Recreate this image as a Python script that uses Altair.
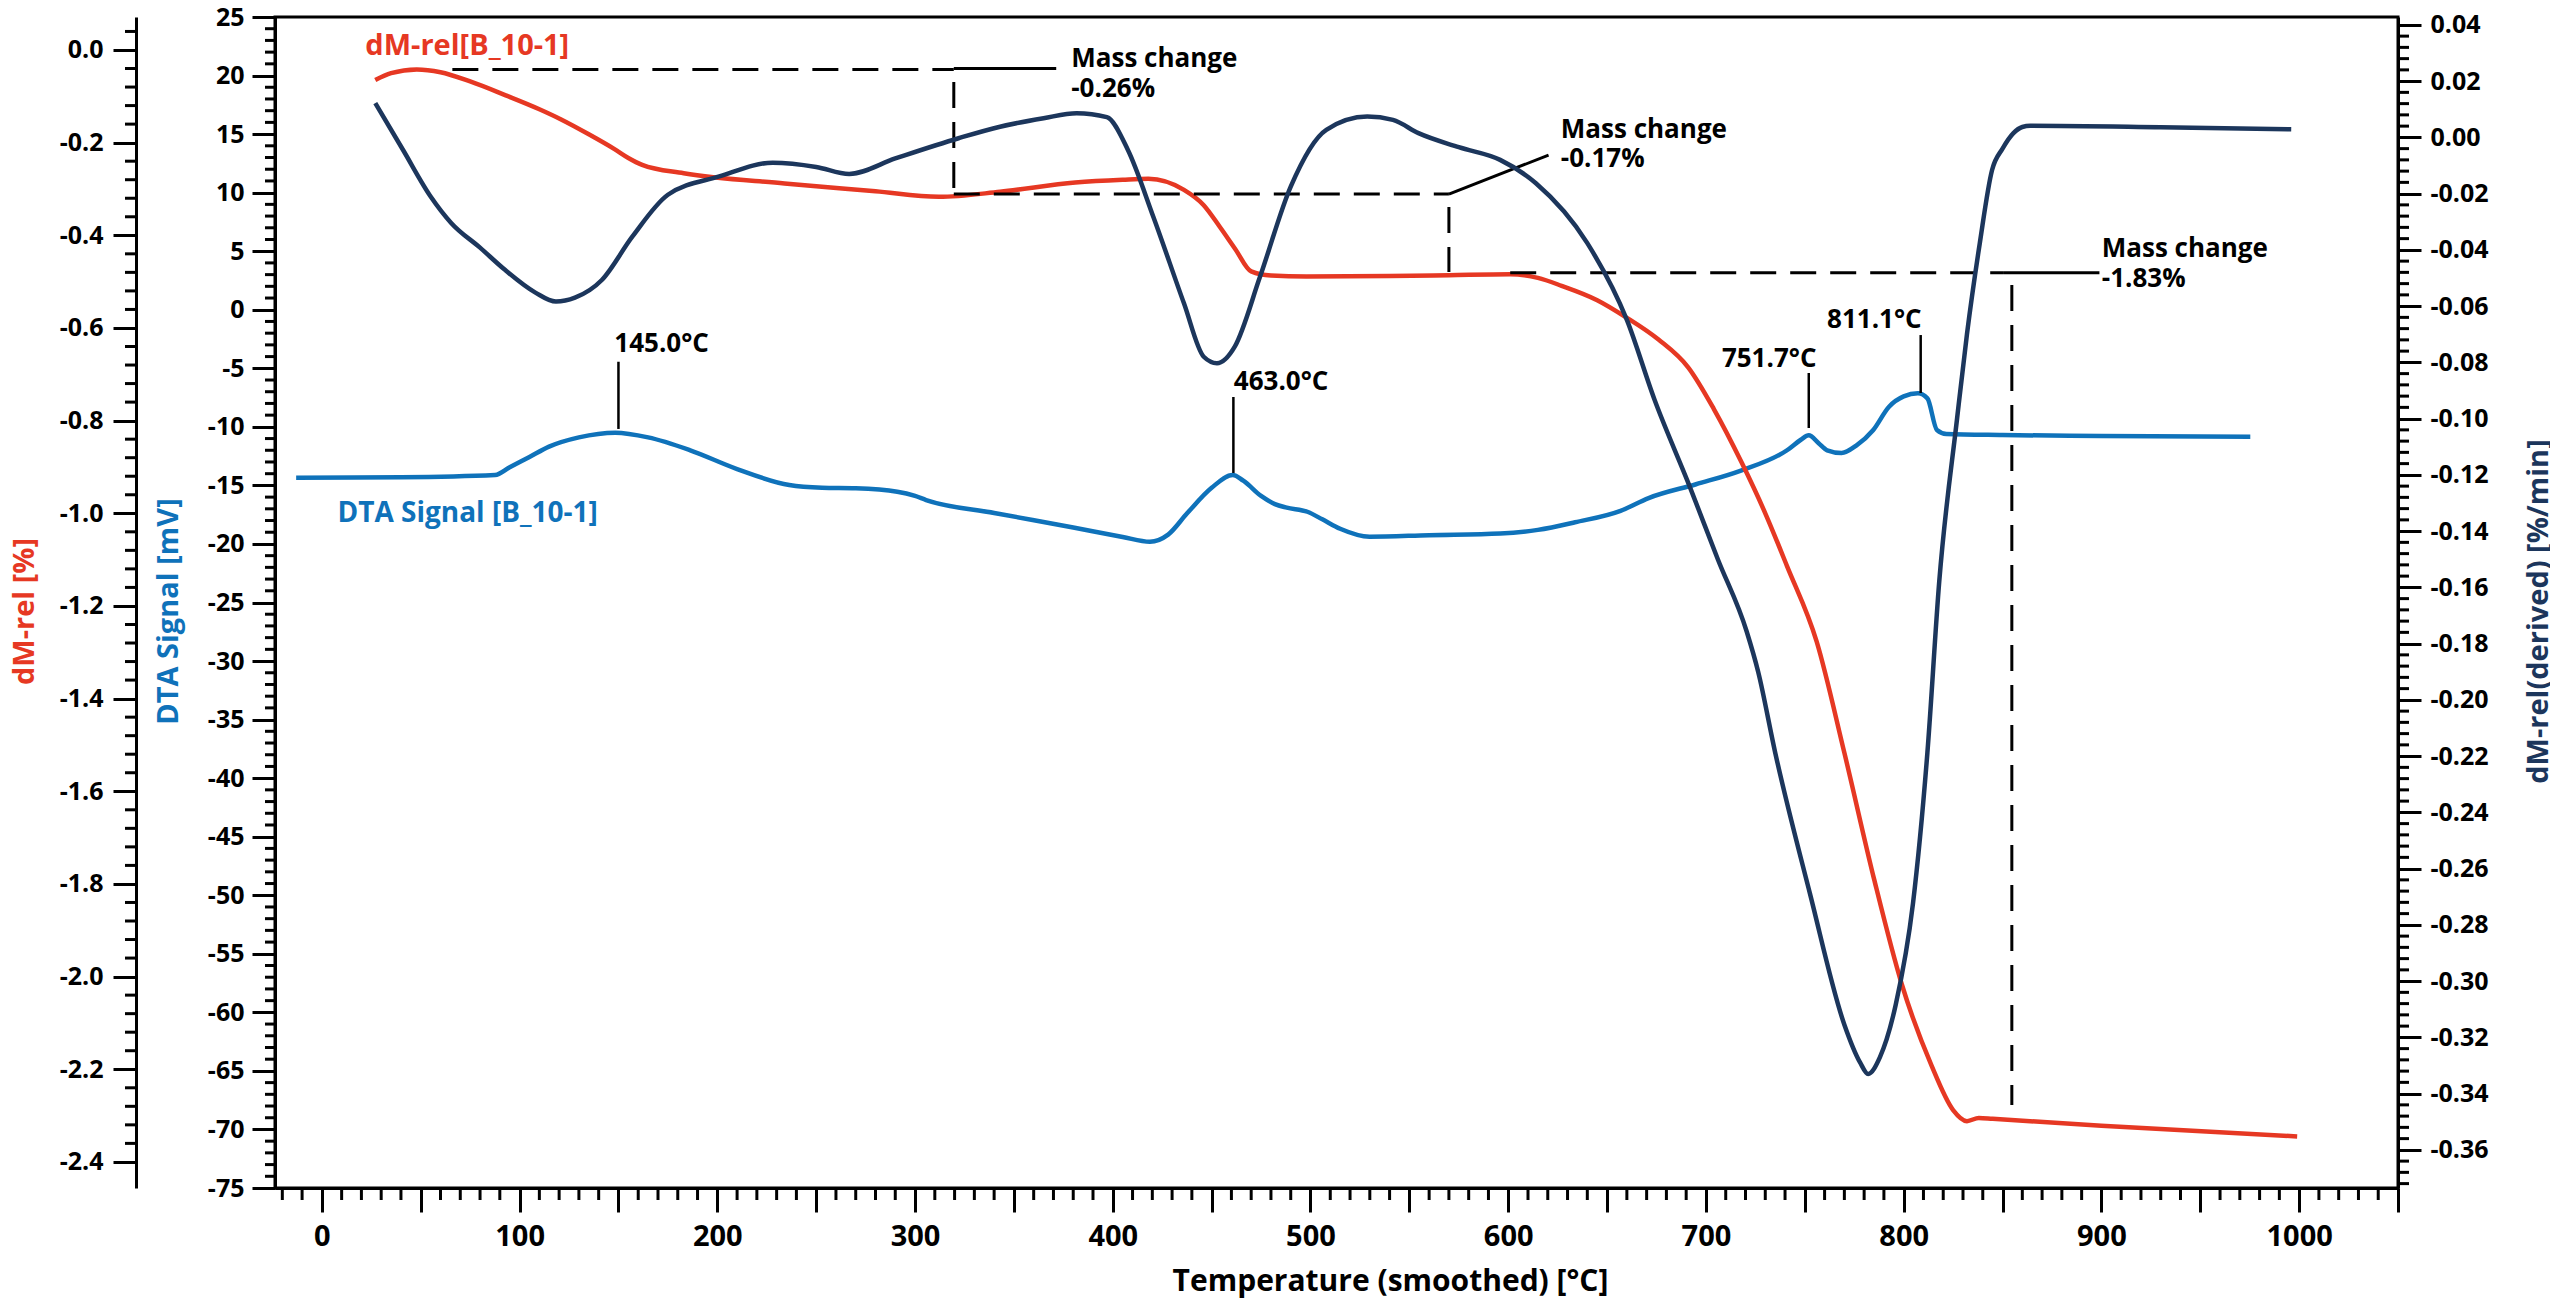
import altair as alt
import pandas as pd

# ---------------- data ----------------
# dM-rel [%] (red)
mass_T = [27, 35, 48, 60, 75, 93, 110, 121, 135, 148, 155, 162, 183, 234, 280, 312, 343, 381,
          405, 418, 436, 446, 454, 462, 470, 480, 498, 540, 570, 601, 615, 627, 645, 660, 676,
          691, 704, 718, 730, 741, 756, 770, 785, 799, 814, 825, 832, 838, 845, 900, 999]
mass_v = [-0.065, -0.050, -0.042, -0.048, -0.068, -0.098, -0.128, -0.150, -0.182, -0.214, -0.233,
          -0.248, -0.266, -0.288, -0.305, -0.317, -0.306, -0.286, -0.280, -0.278, -0.302, -0.335,
          -0.381, -0.430, -0.478, -0.487, -0.489, -0.488, -0.486, -0.484, -0.492, -0.509, -0.540,
          -0.578, -0.625, -0.685, -0.775, -0.890, -1.000, -1.114, -1.277, -1.517, -1.789, -2.016,
          -2.191, -2.288, -2.312, -2.305, -2.307, -2.322, -2.345]

# dM-rel(derived) [%/min] (navy)
deriv_T = [27, 41, 55, 65.5, 80, 92.6, 108, 118.4, 128, 141.6, 157, 175, 201, 228, 250, 266.7, 290,
           322, 343, 365, 381.7, 397, 407.6, 420.5, 436, 446, 452.7, 461.7, 474.5, 490, 508, 528.7,
           541.7, 554.6, 575, 595.9, 614, 640, 660, 674, 691.6, 706, 720.6, 726.4, 735, 752.6, 770,
           778, 782, 788, 796, 804.7, 812, 818, 827, 832, 838.5, 844.7, 850, 855.5, 860, 864, 930, 996]
deriv_v = [0.0122, -0.0044, -0.021, -0.0305, -0.0392, -0.0471, -0.0552, -0.0584, -0.057, -0.0507,
           -0.0353, -0.0204, -0.0139, -0.0090, -0.0105, -0.013, -0.0075, -0.0003, 0.0038, 0.0068,
           0.0086, 0.0072, -0.0044, -0.0282, -0.0590, -0.078, -0.0803, -0.0744, -0.0495, -0.0175,
           0.0027, 0.0074, 0.0062, 0.0015, -0.0035, -0.008, -0.0163, -0.0376, -0.0649, -0.0933,
           -0.1238, -0.150, -0.1757, -0.19, -0.2187, -0.2689, -0.3155, -0.329, -0.333, -0.327,
           -0.3083, -0.2724, -0.2187, -0.1578, -0.100, -0.070, -0.0376, -0.0116, -0.004, 0.0015,
           0.0037, 0.0041, 0.0036, 0.0029]

# DTA Signal [mV] (blue)
dta_T = [-13, 40, 87.6, 95, 105, 114.9, 130, 148.4, 165, 186, 210, 236.4, 253, 270, 291, 300,
         305.6, 340, 380, 405, 418.8, 428, 437.6, 450, 460.7, 466, 475, 482, 488, 498.4, 506, 515,
         529.9, 560, 596, 615, 633.8, 656.8, 671, 695, 717.7, 741, 748, 752, 757, 761.3, 768.6,
         776, 784.5, 792.6, 800, 807.2, 812, 816.8, 821.6, 850, 900, 975.3]
dta_v = [-14.34, -14.3, -14.11, -13.45, -12.57, -11.69, -10.9, -10.5, -10.9, -11.98, -13.6, -14.97,
         -15.2, -15.25, -15.54, -15.9, -16.25, -17.35, -18.6, -19.4, -19.81, -19.2, -17.38, -15.2,
         -14.11, -14.6, -15.9, -16.6, -16.9, -17.25, -17.9, -18.7, -19.38, -19.25, -19.11, -18.8,
         -18.15, -17.17, -16.08, -14.9, -13.73, -12.0, -11.1, -10.72, -11.4, -12.0, -12.23, -11.6,
         -10.29, -8.28, -7.4, -7.14, -7.57, -10.27, -10.61, -10.7, -10.78, -10.84]

# mass-change annotations (temperature, dM-rel %)
dash_T1 = [66, 319.6, 319.6, 570, 601, 854.7]
dash_T2 = [319.6, 319.6, 570, 570, 850.7, 854.7]
dash_m1 = [-0.042, -0.069, -0.311, -0.339, -0.481, -0.507]
dash_m2 = [-0.042, -0.302, -0.311, -0.479, -0.481, -2.277]
lead_T1 = [319.6, 570, 850.7]
lead_T2 = [371.4, 620.4, 899]
lead_m1 = [-0.040, -0.311, -0.481]
lead_m2 = [-0.040, -0.227, -0.481]
mc_T = [379, 379, 626.6, 626.6, 900.2, 900.2]
mc_m = [-0.0367, -0.101, -0.190, -0.2525, -0.4468, -0.5115]
mc_text = ["Mass change", "-0.26%", "Mass change", "-0.17%", "Mass change", "-1.83%"]

# DTA peak markers (temperature, mV)
pk_T = [150, 461, 752, 808.6]
pk_d1 = [-4.44, -7.45, -5.4, -2.16]
pk_d2 = [-10.18, -13.94, -10.1, -7.11]
pkL_T = [147.9, 461.2]
pkL_d = [-3.61, -6.85]
pkL_text = ["145.0°C", "463.0°C"]
pkR_T = [755.9, 809.1]
pkR_d = [-4.89, -1.56]
pkR_text = ["751.7°C", "811.1°C"]

# axis ticks
x_major = list(range(0, 1051, 50))
x_minor = [v for v in range(-20, 1051, 10) if v % 50 != 0]
dta_major = list(range(-75, 26, 5))
dta_minor = [v for v in range(-74, 25) if v % 5 != 0]
mass_major = [round(-0.2 * i, 1) for i in range(13)]
mass_minor = [round(0.04 * k, 2) for k in range(-59, 2) if k % 5 != 0]
deriv_major = [round(0.04 - 0.02 * i, 2) for i in range(21)]
deriv_minor = [round(0.004 * k, 3) for k in range(-93, 11) if k % 5 != 0]

# ---------------- styling ----------------
W, H = 2123, 1171
RED = "#E63823"
BLUE = "#0F72BA"
NAVY = "#1C365C"
FONT = "Open Sans"
LW = 4.5

xscale = alt.Scale(domain=[-23.7, 1050], nice=False, zero=False)
dta_scale = alt.Scale(domain=[-75, 25], nice=False, zero=False)
mass_scale = alt.Scale(domain=[-2.4563, 0.0712], nice=False, zero=False)
deriv_scale = alt.Scale(domain=[-0.37356, 0.0428], nice=False, zero=False)

common_axis = dict(grid=False, domainColor="black", domainWidth=3, tickColor="black",
                   tickWidth=3, labelColor="black", labelFont=FONT, labelFontWeight="bold",
                   titleFont=FONT, titleFontWeight="bold", labelOverlap=False, labelFlush=False)

x_axis = alt.Axis(values=x_major, tickSize=24, labelFontSize=29, labelPadding=10,
                  labelExpr="datum.value % 100 === 0 ? format(datum.value, 'd') : ''",
                  title="Temperature (smoothed) [°C]", titleFontSize=30, titleColor="black",
                  titleX=1115, titleY=102, titleAlign="center", titleBaseline="alphabetic",
                  **common_axis)

dta_axis = alt.Axis(orient="left", offset=0, values=dta_major, tickSize=23, labelFontSize=25,
                    labelPadding=8, labelExpr="replace(format(datum.value, 'd'), '\u2212', '-')",
                    title="DTA Signal [mV]", titleColor=BLUE, titleFontSize=29,
                    titleX=-107, titleY=594, titleAngle=270, titleAlign="center",
                    titleBaseline="middle", **common_axis)

mass_axis = alt.Axis(orient="left", offset=139, values=mass_major, tickSize=23, labelFontSize=25,
                     labelPadding=10, labelExpr="replace(format(datum.value, '.1f'), '\u2212', '-')",
                     title="dM-rel [%]", titleColor=RED, titleFontSize=29,
                     titleX=-112, titleY=594, titleAngle=270, titleAlign="center",
                     titleBaseline="middle", **common_axis)

deriv_axis = alt.Axis(orient="right", offset=0, values=deriv_major, tickSize=23, labelFontSize=25,
                      labelPadding=9, labelExpr="replace(format(datum.value, '.2f'), '\u2212', '-')",
                      title="dM-rel(derived) [%/min]", titleColor=NAVY, titleFontSize=29,
                      titleX=140, titleY=594, titleAngle=270, titleAlign="center",
                      titleBaseline="middle", **common_axis)


def X(f):
    return alt.X(f, type="quantitative", scale=xscale, axis=x_axis)


def Yd(f):
    return alt.Y(f, type="quantitative", scale=dta_scale, axis=dta_axis)


def Ym(f):
    return alt.Y(f, type="quantitative", scale=mass_scale, axis=mass_axis)


def Yr(f):
    return alt.Y(f, type="quantitative", scale=deriv_scale, axis=deriv_axis)


TXT = dict(baseline="alphabetic", font=FONT, fontWeight="bold")

# ---------------- DTA group ----------------
dta_df = pd.DataFrame({"T": dta_T, "v": dta_v})
dta_line = alt.Chart(dta_df).mark_line(color=BLUE, strokeWidth=LW, interpolate="monotone").encode(
    x=X("T"), y=Yd("v"))

pk_df = pd.DataFrame({"T": pk_T, "d1": pk_d1, "d2": pk_d2})
pk_rules = alt.Chart(pk_df).mark_rule(color="black", strokeWidth=2.5).encode(
    x=X("T"), y=Yd("d1"), y2="d2")

pkL = alt.Chart(pd.DataFrame({"T": pkL_T, "d": pkL_d, "t": pkL_text})).mark_text(
    align="left", fontSize=26, color="black", **TXT
).encode(x=X("T"), y=Yd("d"), text="t:N")
pkR = alt.Chart(pd.DataFrame({"T": pkR_T, "d": pkR_d, "t": pkR_text})).mark_text(
    align="right", fontSize=26, color="black", **TXT
).encode(x=X("T"), y=Yd("d"), text="t:N")

dta_lab = alt.Chart(pd.DataFrame({"T": [7.9], "d": [-18.1], "t": ["DTA Signal [B_10-1]"]})).mark_text(
    align="left", fontSize=28, color=BLUE, **TXT
).encode(x=X("T"), y=Yd("d"), text="t:N")

dta_minor_ticks = alt.Chart(pd.DataFrame({"v": dta_minor})).mark_rule(
    color="black", strokeWidth=3).encode(y=Yd("v"), x=alt.value(0), x2=alt.value(-10))

x_minor_ticks = alt.Chart(pd.DataFrame({"T": x_minor})).mark_rule(
    color="black", strokeWidth=3).encode(x=X("T"), y=alt.value(H), y2=alt.value(H + 12))

dta_group = alt.layer(dta_line, pk_rules, pkL, pkR, dta_lab, dta_minor_ticks, x_minor_ticks)

# ---------------- mass group ----------------
mass_df = pd.DataFrame({"T": mass_T, "v": mass_v})
mass_line = alt.Chart(mass_df).mark_line(color=RED, strokeWidth=LW, interpolate="monotone").encode(
    x=X("T"), y=Ym("v"))

dash_df = pd.DataFrame({"T1": dash_T1, "T2": dash_T2, "m1": dash_m1, "m2": dash_m2})
dash_rules = alt.Chart(dash_df).mark_rule(color="black", strokeWidth=3, strokeDash=[26, 14]).encode(
    x=X("T1"), x2="T2", y=Ym("m1"), y2="m2")

lead_df = pd.DataFrame({"T1": lead_T1, "T2": lead_T2, "m1": lead_m1, "m2": lead_m2})
lead_rules = alt.Chart(lead_df).mark_rule(color="black", strokeWidth=3).encode(
    x=X("T1"), x2="T2", y=Ym("m1"), y2="m2")

mc_df = pd.DataFrame({"T": mc_T, "m": mc_m, "t": mc_text})
mc_text_layer = alt.Chart(mc_df).mark_text(
    align="left", fontSize=26, color="black", **TXT
).encode(x=X("T"), y=Ym("m"), text="t:N")

mass_lab = alt.Chart(pd.DataFrame({"T": [22], "m": [-0.0108], "t": ["dM-rel[B_10-1]"]})).mark_text(
    align="left", fontSize=29, color=RED, **TXT
).encode(x=X("T"), y=Ym("m"), text="t:N")

mass_minor_ticks = alt.Chart(pd.DataFrame({"v": mass_minor})).mark_rule(
    color="black", strokeWidth=3).encode(y=Ym("v"), x=alt.value(-139), x2=alt.value(-150))

mass_group = alt.layer(mass_line, dash_rules, lead_rules, mc_text_layer, mass_lab, mass_minor_ticks)

# ---------------- derivative group ----------------
deriv_df = pd.DataFrame({"T": deriv_T, "v": deriv_v})
deriv_line = alt.Chart(deriv_df).mark_line(color=NAVY, strokeWidth=LW, interpolate="monotone").encode(
    x=X("T"), y=Yr("v"))

deriv_minor_ticks = alt.Chart(pd.DataFrame({"v": deriv_minor})).mark_rule(
    color="black", strokeWidth=3).encode(y=Yr("v"), x=alt.value(W), x2=alt.value(W + 11))

deriv_group = alt.layer(deriv_line, deriv_minor_ticks)

chart = alt.layer(dta_group, mass_group, deriv_group).resolve_scale(
    y="independent"
).properties(
    width=W, height=H,
    padding={"left": 267, "top": 9, "right": 152, "bottom": 110},
    autosize=alt.AutoSizeParams(type="none"),
    background="white",
).configure_view(stroke="black", strokeWidth=3)

chart.save("out.html", embed_options={"renderer": "svg", "actions": False})
